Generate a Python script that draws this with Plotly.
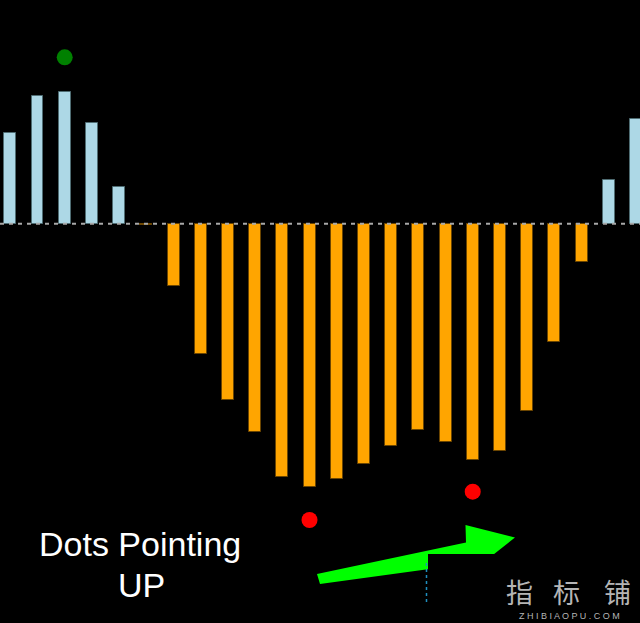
import plotly.graph_objects as go

# ---- data (histogram values, baseline = 0) ----
bar_index = list(range(24))
hist_values = [91, 128, 131.4, 101, 36.4, -1.2, -62, -130.3, -176.3, -208.3,
               -253.6, -263.6, -255.3, -240, -222, -206.6, -218.6, -236.6,
               -227, -187.6, -118.6, -38.6, 43.4, 104.4]

up_dot_x = [2]
up_dot_y = [166.4]
down_dot_x = [11, 17]
down_dot_y = [-296.3, -268]

label_lines = ["Dots Pointing", "UP"]
watermark_chars = ["指", "标", "铺"]
watermark_sub = "Z H I B I A O P U . C O M"

# ---- styling ----
pos_fill, pos_line = "#add8e6", "#4f6d73"
neg_fill, neg_line = "#ffa500", "#6b4500"
fills = [pos_fill if v > 0 else neg_fill for v in hist_values]
lines = [pos_line if v > 0 else neg_line for v in hist_values]

fig = go.Figure()
fig.add_trace(go.Bar(
    x=bar_index, y=hist_values, width=0.44,
    marker=dict(color=fills, line=dict(color=lines, width=1)),
    hoverinfo="skip", showlegend=False,
))
fig.add_trace(go.Scatter(
    x=up_dot_x, y=up_dot_y, mode="markers",
    marker=dict(color="#008000", size=16), showlegend=False, hoverinfo="skip",
))
fig.add_trace(go.Scatter(
    x=down_dot_x, y=down_dot_y, mode="markers",
    marker=dict(color="#ff0000", size=16), showlegend=False, hoverinfo="skip",
))

W, H = 640, 623
def px(x):
    return x / W
def py(y):
    return 1 - y / H

# dashed zero line drawn above bars
fig.add_shape(type="line", xref="paper", yref="y", x0=0, x1=1, y0=0, y1=0,
              line=dict(color="#a8a8a8", width=2, dash="4px,5px"), layer="above")

# green arrow
arrow_pts = [(317, 574), (466, 542.5), (465.5, 525), (515, 537.5),
             (484, 562), (466, 564), (320, 584)]
path = "M " + " L ".join(f"{px(x):.5f},{py(y):.5f}" for x, y in arrow_pts) + " Z"
fig.add_shape(type="path", xref="paper", yref="paper", path=path,
              fillcolor="#00ff00", line=dict(width=0), layer="above")
# black cover box
fig.add_shape(type="rect", xref="paper", yref="paper",
              x0=px(428), x1=1, y0=0, y1=py(554),
              fillcolor="#000000", line=dict(width=0), layer="above")
# small cyan dashes
fig.add_shape(type="line", xref="paper", yref="paper",
              x0=px(426.5), x1=px(426.5), y0=py(563), y1=py(602),
              line=dict(color="#1f8fbf", width=1.5, dash="dot"), layer="above")

# text label
fig.add_annotation(x=px(140), y=py(543.5), xref="paper", yref="paper",
                   xanchor="center", yanchor="middle",
                   text=label_lines[0], showarrow=False,
                   font=dict(family="Liberation Sans, Arial", size=34, color="#ffffff"))
fig.add_annotation(x=px(141), y=py(584.5), xref="paper", yref="paper",
                   xanchor="center", yanchor="middle",
                   text=label_lines[1], showarrow=False,
                   font=dict(family="Liberation Sans, Arial", size=34, color="#ffffff"))

# watermark
for cx, ch in zip([519, 566, 617], watermark_chars):
    fig.add_annotation(x=px(cx), y=py(591), xref="paper", yref="paper",
                       xanchor="center", yanchor="middle",
                       text=ch, showarrow=False,
                       font=dict(family="Noto Sans CJK SC", size=27, color="#b5b5b5"))
fig.add_annotation(x=px(569), y=py(616), xref="paper", yref="paper",
                   xanchor="center", yanchor="middle",
                   text=watermark_sub, showarrow=False,
                   font=dict(family="Liberation Sans, Arial", size=9, color="#b5b5b5"))

fig.update_layout(
    width=W, height=H, margin=dict(l=0, r=0, t=0, b=0),
    paper_bgcolor="#000000", plot_bgcolor="#000000",
    xaxis=dict(range=[-0.379, 23.15], visible=False, fixedrange=True),
    yaxis=dict(range=[-399.3, 223.7], visible=False, fixedrange=True),
    bargap=0, showlegend=False,
)

fig.write_html("out.html", config={"displayModeBar": False},
               post_script="document.body.style.margin='0';document.body.style.overflow='hidden';")
